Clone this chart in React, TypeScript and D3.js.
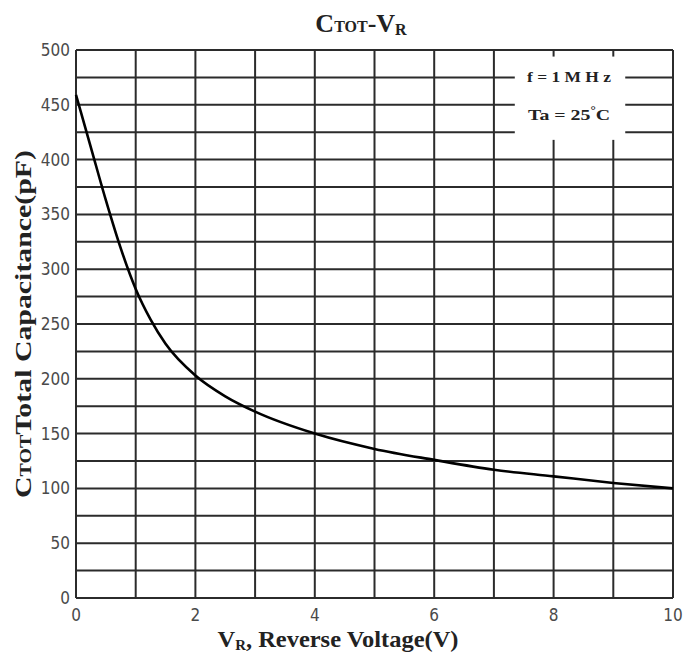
import React, { useEffect, useRef } from "react";
import * as d3 from "d3";

// reverse voltage (V) and total capacitance (pF)
const voltage = [0, 0.25, 0.5, 0.75, 1, 1.25, 1.5, 2, 2.5, 3, 4, 5, 6, 7, 8, 9, 10];
const capacitance = [459, 411, 363, 319, 282, 254, 232, 203, 184, 170, 150, 136, 126, 117, 111, 105, 100];

const xTickLabels = [0, 2, 4, 6, 8, 10];
const yTickLabels = [0, 50, 100, 150, 200, 250, 300, 350, 400, 450, 500];
const xGrid = d3.range(0, 11, 1);
const yGrid = d3.range(0, 525, 25);

const legendLines = ["f = 1 M H z", "Ta = 25"];

const W = 685;
const H = 664;
const margin = { top: 50, right: 12, bottom: 66, left: 76 };

const SERIF = "'Liberation Serif', 'Times New Roman', serif";
const NARROW = "'Liberation Sans Narrow', 'Arial Narrow', 'DejaVu Sans Condensed', sans-serif";

export default function App() {
    const ref = useRef<SVGSVGElement>(null);

    useEffect(() => {
        const svg = d3.select(ref.current);
        svg.selectAll("*").remove();

        const x = d3.scaleLinear().domain([0, 10]).range([margin.left, W - margin.right]);
        const y = d3.scaleLinear().domain([0, 500]).range([H - margin.bottom, margin.top]);

        const gridColor = "#2b2b2b";

        // grid
        svg.append("g")
            .selectAll("line")
            .data(yGrid).enter()
            .append("line")
            .attr("x1", x(0)).attr("x2", x(10))
            .attr("y1", d => y(d)).attr("y2", d => y(d))
            .attr("stroke", gridColor)
            .attr("stroke-width", 2);

        svg.append("g")
            .selectAll("line")
            .data(xGrid).enter()
            .append("line")
            .attr("x1", d => x(d)).attr("x2", d => x(d))
            .attr("y1", y(0)).attr("y2", y(500))
            .attr("stroke", gridColor)
            .attr("stroke-width", 2);

        // legend box hides the grid behind it
        const bx0 = x(7.35), bx1 = x(9.2);
        const by0 = y(494), by1 = y(418);
        svg.append("rect")
            .attr("x", bx0).attr("y", by0)
            .attr("width", bx1 - bx0).attr("height", by1 - by0)
            .attr("fill", "white");

        const legend = svg.append("g")
            .attr("font-family", SERIF)
            .attr("font-weight", "bold")
            .attr("font-size", 15)
            .attr("fill", "#222")
            .attr("text-anchor", "middle");
        legend.append("text")
            .attr("x", (bx0 + bx1) / 2 - 1).attr("y", y(475) + 5)
            .attr("textLength", 84).attr("lengthAdjust", "spacingAndGlyphs")
            .text(legendLines[0]);
        const t2 = legend.append("text")
            .attr("x", (bx0 + bx1) / 2 - 1).attr("y", y(441) + 5)
            .attr("textLength", 82).attr("lengthAdjust", "spacingAndGlyphs");
        t2.append("tspan").text(legendLines[1]);
        t2.append("tspan").attr("dy", -6).attr("font-size", 10).text("°");
        t2.append("tspan").attr("dy", 6).text("C");

        // curve
        const pts = voltage.map((v, i) => [v, capacitance[i]] as [number, number]);
        const line = d3.line<[number, number]>()
            .x(d => x(d[0]))
            .y(d => y(d[1]))
            .curve(d3.curveMonotoneX);
        svg.append("path")
            .datum(pts)
            .attr("d", line)
            .attr("fill", "none")
            .attr("stroke", "#000")
            .attr("stroke-width", 2.6);

        // tick labels
        svg.append("g")
            .selectAll("text")
            .data(yTickLabels).enter()
            .append("text")
            .attr("x", x(0) - 6)
            .attr("y", d => y(d) + 6)
            .attr("text-anchor", "end")
            .attr("font-family", NARROW)
            .attr("font-size", 17)
            .attr("fill", "#4a4a4a")
            .text(d => d);

        svg.append("g")
            .selectAll("text")
            .data(xTickLabels).enter()
            .append("text")
            .attr("x", d => x(d))
            .attr("y", y(0) + 23)
            .attr("text-anchor", "middle")
            .attr("font-family", NARROW)
            .attr("font-size", 17)
            .attr("fill", "#4a4a4a")
            .text(d => d);

        // title
        const title = svg.append("text")
            .attr("x", 361).attr("y", 32)
            .attr("text-anchor", "middle")
            .attr("font-family", SERIF)
            .attr("font-weight", "bold")
            .attr("font-size", 26)
            .attr("fill", "#222");
        title.append("tspan").text("C");
        title.append("tspan").attr("font-size", 16).text("TOT");
        title.append("tspan").text("-V");
        title.append("tspan").attr("font-size", 16).attr("dy", 3).text("R");

        // x axis label
        const xl = svg.append("text")
            .attr("x", 338).attr("y", 647)
            .attr("text-anchor", "middle")
            .attr("font-family", SERIF)
            .attr("font-weight", "bold")
            .attr("font-size", 23)
            .attr("fill", "#222")
            .attr("textLength", 241).attr("lengthAdjust", "spacingAndGlyphs");
        xl.append("tspan").text("V");
        xl.append("tspan").attr("font-size", 14).attr("dy", 3).text("R");
        xl.append("tspan").attr("dy", -3).text(", Reverse Voltage(V)");

        // y axis label
        const yl = svg.append("text")
            .attr("transform", "translate(31, 324) rotate(-90)")
            .attr("text-anchor", "middle")
            .attr("font-family", SERIF)
            .attr("font-weight", "bold")
            .attr("font-size", 24)
            .attr("fill", "#222")
            .attr("textLength", 348).attr("lengthAdjust", "spacingAndGlyphs");
        yl.append("tspan").text("C");
        yl.append("tspan").attr("font-size", 16).text("TOT");
        yl.append("tspan").text("Total Capacitance(pF)");
    }, []);

    return (
        <svg
            ref={ref}
            width={W}
            height={H}
            style={{ position: "absolute", left: 0, top: 0, background: "white" }}
        />
    );
}
